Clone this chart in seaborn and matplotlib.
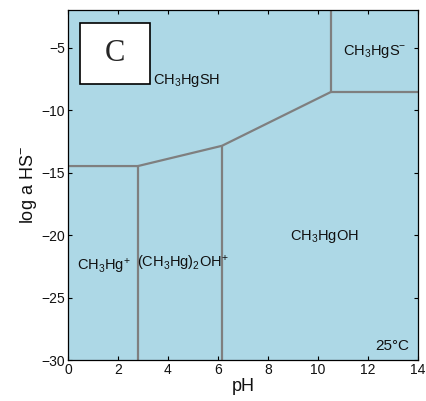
import matplotlib
matplotlib.use("Agg")
import matplotlib.pyplot as plt
import seaborn as sns
import pandas as pd
from matplotlib.patches import Rectangle

sns.set_theme(style="ticks")
plt.rcParams['font.family'] = ['Liberation Sans', 'DejaVu Sans']
plt.rcParams['mathtext.fontset'] = 'custom'
plt.rcParams['mathtext.rm'] = 'Liberation Sans'
plt.rcParams['mathtext.it'] = 'Liberation Sans'

# Boundary lines (pH, log a HS-)
seg_id = [0, 0, 0, 0, 1, 1, 2, 2, 3, 3, 4, 4]
seg_ph = [0.0, 2.8, 6.16, 10.52, 2.8, 2.8, 6.16, 6.16, 10.52, 14.0, 10.52, 10.52]
seg_log = [-14.48, -14.48, -12.86, -8.55, -14.48, -30.0, -12.86, -30.0, -8.55, -8.55, -8.55, -2.0]

# Species labels
species = [r"CH$_3$HgSH", r"CH$_3$HgS$^{-}$", r"CH$_3$HgOH", r"CH$_3$Hg$^{+}$", r"(CH$_3$Hg)$_2$OH$^{+}$"]
species_ph = [3.4, 11.0, 8.9, 0.38, 2.75]
species_log = [-7.6, -5.3, -20.1, -22.5, -22.3]

df = pd.DataFrame({"seg": seg_id, "pH": seg_ph, "logHS": seg_log})

fig = plt.figure(figsize=(4.27, 4.01), dpi=100)
ax = fig.add_axes([0.159, 0.102, 0.820, 0.873])
ax.set_facecolor("#add8e6")

for s, g in df.groupby("seg"):
    sns.lineplot(data=g, x="pH", y="logHS", ax=ax, color="#7f7f7f", lw=1.6,
                 sort=False, estimator=None, legend=False)

for t, x, y in zip(species, species_ph, species_log):
    ax.text(x, y, t, fontsize=10.5, ha="left", va="center", color="#111111")

ax.text(13.65, -28.9, "25°C", fontsize=11, ha="right", va="center", color="#111111")

ax.add_patch(Rectangle((0.5, -7.9), 2.78, 4.86, facecolor="white", edgecolor="black", lw=1.2, zorder=5))
ax.text(1.89, -5.5, "C", fontsize=22, ha="center", va="center", family="Liberation Serif", zorder=6)

ax.set_xlim(0, 14)
ax.set_ylim(-30, -2)
ax.set_xticks(range(0, 15, 2))
ax.set_yticks([-30, -25, -20, -15, -10, -5])
ax.tick_params(direction="in", top=True, right=True, length=3, width=0.8, labelsize=10,
               pad=2, colors="black", labelcolor="#111111")
for sp in ax.spines.values():
    sp.set_linewidth(0.9)
    sp.set_color("black")
ax.set_xlabel("pH", fontsize=13, labelpad=1, color="#111111")
ax.set_ylabel(r"log a HS$^{-}$", fontsize=13, labelpad=2, color="#111111")

fig.savefig("out.png", dpi=100)
